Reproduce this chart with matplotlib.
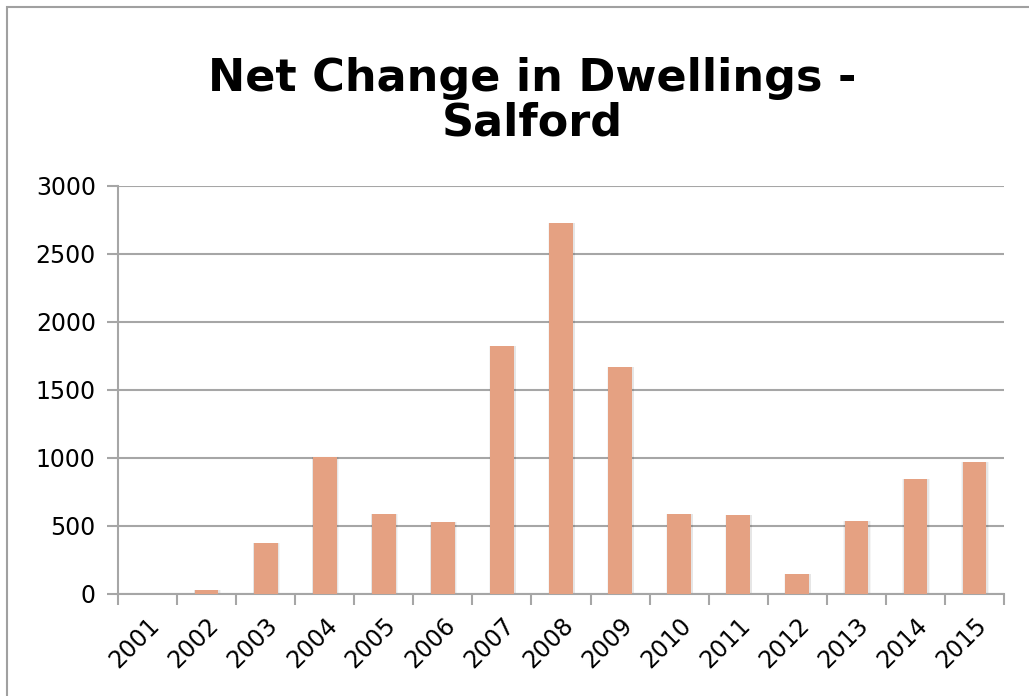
import numpy as np
import matplotlib.pyplot as plt
from matplotlib.patches import Rectangle

years = ['2001', '2002', '2003', '2004', '2005', '2006', '2007', '2008',
         '2009', '2010', '2011', '2012', '2013', '2014', '2015']
net_change = [0, 30, 377, 1005, 590, 527, 1826, 2725, 1667, 588, 578, 147, 537, 846, 970]
y_ticks = [0, 500, 1000, 1500, 2000, 2500, 3000]

bar_color = '#E5A182'
grid_color = '#A6A6A6'

fig = plt.figure(figsize=(10.29, 6.96), dpi=100)
ax = fig.add_axes([0.1147, 0.1466, 0.8610, 0.5862])

x = np.arange(len(years))
# faint soft shadow around the bars
for w, a in [(0.46, 0.04), (0.44, 0.06)]:
    ax.bar(x + 0.01, net_change, width=w, color='#000000', alpha=a, zorder=2)
ax.bar(x, net_change, width=0.40, color=bar_color, zorder=3)

ax.set_xlim(-0.5, len(years) - 0.5)
ax.set_ylim(0, 3000)
ax.set_yticks(y_ticks)
ax.set_yticklabels([str(v) for v in y_ticks], fontsize=17)
ax.yaxis.grid(True, color=grid_color, linewidth=1.5)
ax.set_axisbelow(True)

ax.set_xticks(x)
ax.set_xticklabels(years, rotation=45, ha='right', va='top', rotation_mode='anchor', fontsize=17)
ax.set_xticks(np.arange(-0.5, len(years)), minor=True)
ax.tick_params(axis='x', which='major', length=0, pad=14)
ax.tick_params(axis='x', which='minor', length=8, color=grid_color, width=1.5)
ax.tick_params(axis='y', length=8, color=grid_color, width=1.5, pad=8)

for side in ['top', 'right']:
    ax.spines[side].set_visible(False)
ax.spines['left'].set_color(grid_color)
ax.spines['left'].set_linewidth(1.5)
ax.spines['bottom'].set_color(grid_color)
ax.spines['bottom'].set_linewidth(1.5)

fig.text(0.517, 0.855, 'Net Change in Dwellings -\nSalford', ha='center', va='center',
         fontsize=32, fontweight='bold', linespacing=1.05)

# outer chart border
fig.patches.append(Rectangle((0.007, -0.01), 1.0, 1.0, transform=fig.transFigure,
                             fill=False, edgecolor='#A0A0A0', linewidth=1.5))

fig.savefig('out.png', dpi=100)
